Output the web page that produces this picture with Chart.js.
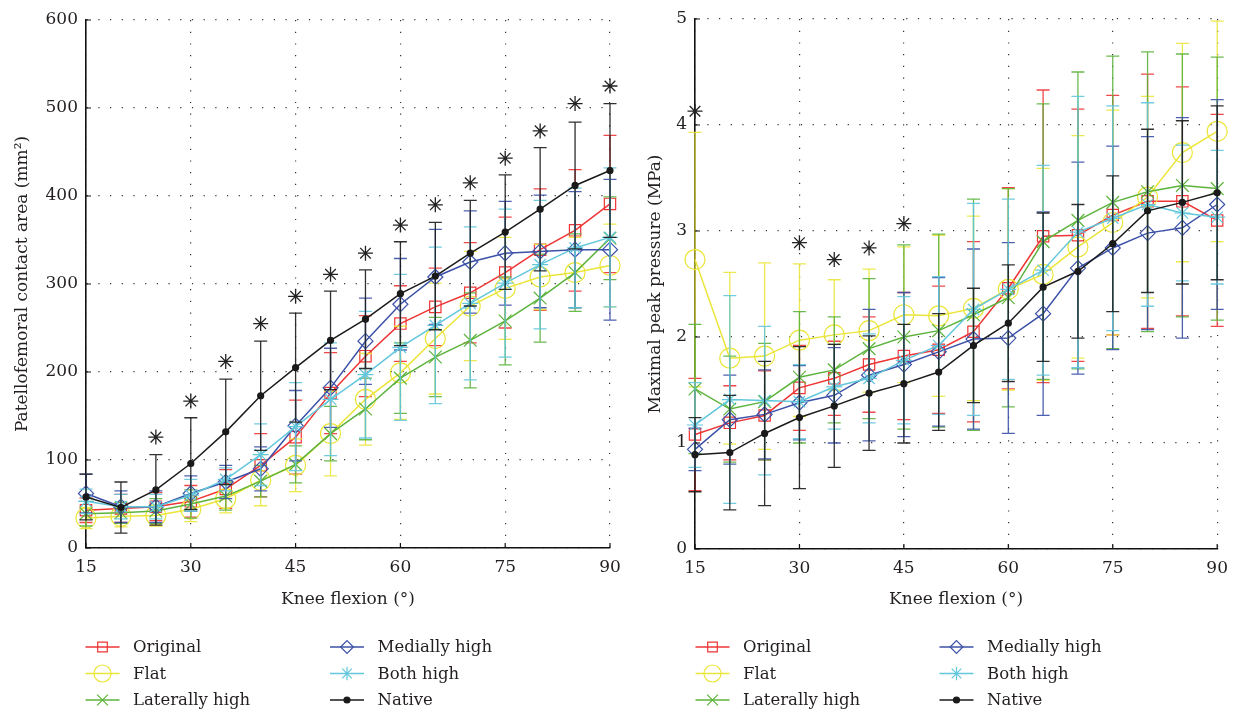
<!DOCTYPE html>
<html><head><meta charset="utf-8">
<script src="https://cdn.jsdelivr.net/npm/chart.js@4.4.1/dist/chart.umd.min.js"></script>
<style>
html,body{margin:0;padding:0;background:#fff;width:1237px;height:716px;overflow:hidden}
canvas{position:absolute;top:0}
#c1{left:0}
#c2{left:615px}
</style></head><body>
<canvas id="c1" width="630" height="716"></canvas>
<canvas id="c2" width="622" height="716"></canvas>
<script>
// ---------- DATA ----------
const flexionAngles = [15,20,25,30,35,40,45,50,55,60,65,70,75,80,85,90];
const seriesNames = ['Original','Flat','Laterally high','Medially high','Both high','Native'];

// Left panel: patellofemoral contact area (mm^2), means
const areaOriginal = [43,45,47,53,67,94,126,176,218,255,274,290,313,339,361,391];
const areaFlat     = [34,36,37,44,56,77,94,130,169,199,238,275,295,308,313,321];
const areaLateral  = [39,40,42,50,59,76,95,130,158,193,217,236,258,284,313,352];
const areaMedial   = [62,47,47,62,75,90,139,182,235,277,308,325,335,337,339,339];
const areaBoth     = [53,47,47,60,78,106,138,169,197,228,253,278,301,322,341,353];
const areaNative   = [58,46,66,96,132,173,205,236,260,289,309,335,359,385,412,429];
// standard deviations
const areaOriginalSD = [14,16,16,18,22,36,42,46,46,43,44,57,63,69,69,78];
const areaFlatSD     = [12,12,12,14,16,29,30,48,52,53,63,62,58,37,40,47];
const areaLateralSD  = [14,12,14,16,16,18,21,31,35,40,45,54,50,50,44,47];
const areaMedialSD   = [22,18,18,20,19,25,40,45,49,52,54,58,59,64,66,80];
const areaBothSD     = [14,14,14,18,13,35,50,64,72,83,89,87,84,73,68,79];
const areaNativeSD   = [26,29,40,52,60,62,62,56,56,59,61,60,65,70,72,76];
// significance markers
const areaStarAngles = [25,30,35,40,45,50,55,60,65,70,75,80,85,90];
const areaStarValues = [126,167,212,255,286,311,335,367,390,415,443,474,505,525];
const areaTicks = [0,100,200,300,400,500,600];

// Right panel: maximal peak pressure (MPa), means
const presOriginal = [1.08,1.19,1.26,1.52,1.61,1.74,1.82,1.88,2.05,2.46,2.95,2.96,3.15,3.28,3.28,3.10];
const presFlat     = [2.73,1.80,1.82,1.97,2.02,2.06,2.21,2.20,2.27,2.45,2.59,2.85,3.08,3.32,3.74,3.94];
const presLateral  = [1.51,1.32,1.39,1.62,1.69,1.89,2.00,2.06,2.21,2.37,2.90,3.10,3.27,3.37,3.43,3.40];
const presMedial   = [0.94,1.22,1.27,1.38,1.45,1.64,1.74,1.86,1.98,1.99,2.22,2.65,2.84,2.98,3.03,3.25];
const presBoth     = [1.17,1.41,1.40,1.39,1.53,1.61,1.78,1.92,2.26,2.45,2.63,2.99,3.12,3.25,3.17,3.13];
const presNative   = [0.89,0.91,1.09,1.24,1.35,1.47,1.56,1.67,1.92,2.13,2.47,2.62,2.88,3.19,3.27,3.36];
// standard deviations
const presOriginalSD = [0.53,0.35,0.42,0.40,0.35,0.45,0.60,0.60,0.85,0.95,1.38,1.19,1.13,1.20,1.08,1.00];
const presFlatSD     = [1.20,0.81,0.88,0.72,0.52,0.58,0.64,0.76,0.87,0.95,1.00,1.05,1.06,0.95,1.03,1.04];
const presLateralSD  = [0.61,0.50,0.55,0.62,0.50,0.66,0.87,0.91,1.09,1.03,1.30,1.40,1.38,1.32,1.24,1.24];
const presMedialSD   = [0.20,0.42,0.42,0.35,0.45,0.62,0.68,0.70,0.85,0.90,0.96,1.00,0.96,0.91,1.04,0.99];
const presBothSD     = [0.40,0.98,0.70,0.35,0.40,0.42,0.60,0.65,1.00,0.85,0.99,1.28,1.06,0.96,0.64,0.63];
const presNativeSD   = [0.35,0.54,0.68,0.67,0.58,0.54,0.56,0.55,0.54,0.55,0.70,0.63,0.64,0.77,0.77,0.82];
const presStarAngles = [15,30,35,40,45];
const presStarValues = [4.13,2.89,2.73,2.84,3.07];
const presTicks = [0,1,2,3,4,5];
const flexionTicks = [15,30,45,60,75,90];

// ---------- STYLES ----------
const FONT = 'DejaVu Serif';
const TEXT = '#231f20';
const seriesStyles = [
  {color:'#ee3434', pointStyle:'rect',     radius:8},
  {color:'#ebe53a', pointStyle:'circle',   radius:10},
  {color:'#5cb33c', pointStyle:'crossRot', radius:9},
  {color:'#3b50a7', pointStyle:'rectRot',  radius:7.5},
  {color:'#62c7dc', pointStyle:'star',     radius:8},
  {color:'#1a1a1a', pointStyle:'circle',   radius:3, filled:true}
];

function pts(xs, ys){ return xs.map((x,i)=>({x:x, y:ys[i]})); }

function buildDatasets(means, sds, starX, starY){
  const ds = means.map((m,i)=>{
    const st = seriesStyles[i];
    return {
      label: seriesNames[i],
      data: pts(flexionAngles, m),
      errorValues: sds[i],
      borderColor: st.color,
      backgroundColor: st.filled ? st.color : 'rgba(0,0,0,0)',
      borderWidth: 1.5,
      pointStyle: st.pointStyle,
      pointRadius: st.radius,
      pointBorderWidth: 1.2,
      pointBackgroundColor: st.filled ? st.color : 'rgba(0,0,0,0)',
      pointBorderColor: st.color,
      tension: 0,
      clip: false,
      order: 6 - i
    };
  });
  ds.push({
    label: 'sig',
    data: pts(starX, starY),
    showLine: false,
    pointStyle: 'star',
    pointRadius: 7.5,
    pointBorderWidth: 1.3,
    pointBorderColor: '#222',
    pointBackgroundColor: 'rgba(0,0,0,0)',
    borderColor: '#222',
    clip: false,
    order: 0,
    isSig: true
  });
  return ds;
}

const errorBarPlugin = {
  id: 'errorBars',
  beforeDatasetDraw(chart, args){
    const ds = chart.data.datasets[args.index];
    if (!ds.errorValues) return;
    const {ctx} = chart; const x = chart.scales.x, y = chart.scales.y;
    const cap = 6.5;
    ctx.save();
    ctx.strokeStyle = ds.borderColor;
    ctx.globalAlpha = 0.9;
    ctx.lineWidth = 1.3;
    ctx.beginPath();
    ds.data.forEach((p,j)=>{
      const sd = ds.errorValues[j];
      const px = x.getPixelForValue(p.x);
      const t = y.getPixelForValue(p.y + sd);
      const b = y.getPixelForValue(p.y - sd);
      ctx.moveTo(px, t); ctx.lineTo(px, b);
      ctx.moveTo(px-cap, t); ctx.lineTo(px+cap, t);
      ctx.moveTo(px-cap, b); ctx.lineTo(px+cap, b);
    });
    ctx.stroke();
    ctx.restore();
  }
};

function drawMarker(ctx, style, radius, x, y, color, filled){
  const opts = {pointStyle: style, radius: radius, rotation: 0, borderWidth: 1.2};
  ctx.save();
  ctx.strokeStyle = color; ctx.fillStyle = filled ? color : 'rgba(0,0,0,0)';
  ctx.lineWidth = 1.2;
  if (Chart.helpers && Chart.helpers.drawPoint) {
    Chart.helpers.drawPoint(ctx, opts, x, y);
  } else {
    ctx.beginPath(); ctx.arc(x,y,radius,0,Math.PI*2); if(filled) ctx.fill(); ctx.stroke();
  }
  ctx.restore();
}

const legendPlugin = {
  id: 'gridLegend',
  afterDraw(chart, args, opts){
    const {ctx} = chart;
    const x = chart.scales.x, y = chart.scales.y;
    // inner tick marks
    ctx.save();
    ctx.strokeStyle = '#111'; ctx.lineWidth = 1.2;
    ctx.beginPath();
    x.ticks.forEach(t=>{ const px = x.getPixelForValue(t.value); ctx.moveTo(px, y.bottom); ctx.lineTo(px, y.bottom-5); });
    y.ticks.forEach(t=>{ const py = y.getPixelForValue(t.value); ctx.moveTo(x.left, py); ctx.lineTo(x.left+5, py); });
    ctx.stroke();
    ctx.restore();
    // legend
    ctx.save();
    ctx.font = '16.5px "' + FONT + '"';
    ctx.fillStyle = TEXT;
    ctx.textBaseline = 'middle';
    chart.data.datasets.forEach((ds,i)=>{
      if (ds.isSig) return;
      const col = Math.floor(i/3), row = i%3;
      const cx = opts.cols[col], cy = opts.rows[row];
      const st = seriesStyles[i];
      ctx.save();
      ctx.strokeStyle = st.color; ctx.lineWidth = 1.5;
      ctx.beginPath(); ctx.moveTo(cx-17, cy); ctx.lineTo(cx+17, cy); ctx.stroke();
      ctx.restore();
      drawMarker(ctx, st.pointStyle, st.pointStyle==='circle' && !st.filled ? 8.5 : (st.filled ? 3 : st.radius*0.85), cx, cy, st.color, st.filled);
      ctx.fillStyle = TEXT;
      ctx.fillText(ds.label, cx + opts.textOffset, cy + 1);
    });
    ctx.restore();
  }
};

function makeChart(id, datasets, yMin, yMax, yStep, yTitle, yWidth, xHeight, pad, titlePad, legendCols){
  return new Chart(document.getElementById(id), {
    type: 'line',
    data: {datasets: datasets},
    options: {
      responsive: false, animation: false, devicePixelRatio: 1,
      layout: {padding: pad},
      plugins: {legend: {display:false}, tooltip: {enabled:false},
        gridLegend: {cols: legendCols, rows: [647, 673.5, 700], textOffset: 30.5}},
      scales: {
        x: {
          type: 'linear', min: 15, max: 90,
          afterBuildTicks: s => { s.ticks = flexionTicks.map(v=>({value:v})); },
          ticks: {font:{family:FONT, size:17}, color: TEXT, padding: 9, maxRotation:0},
          grid: {color:'#333', lineWidth:1.2, drawTicks:false},
          border: {display:true, color:'#111', width:1.6, dash:[1.2,10.5]},
          title: {display:true, text:'Knee flexion (°)', font:{family:FONT, size:17}, color: TEXT, padding:{top:0, bottom:10}},
          afterFit: s => { s.height = xHeight; }
        },
        y: {
          type: 'linear', min: yMin, max: yMax,
          afterBuildTicks: s => { s.ticks = (yMax===600?areaTicks:presTicks).map(v=>({value:v})); },
          ticks: {font:{family:FONT, size:17}, color: TEXT, padding: 8},
          grid: {color:'#333', lineWidth:1.2, drawTicks:false},
          border: {display:true, color:'#111', width:1.6, dash:[1.2,10.5]},
          title: {display:true, text:yTitle, font:{family:FONT, size:17}, color: TEXT, padding:{top:titlePad, bottom:0}},
          afterFit: s => { s.width = yWidth; }
        }
      }
    },
    plugins: [errorBarPlugin, legendPlugin]
  });
}

const leftSets = buildDatasets(
  [areaOriginal, areaFlat, areaLateral, areaMedial, areaBoth, areaNative],
  [areaOriginalSD, areaFlatSD, areaLateralSD, areaMedialSD, areaBothSD, areaNativeSD],
  areaStarAngles, areaStarValues);
const rightSets = buildDatasets(
  [presOriginal, presFlat, presLateral, presMedial, presBoth, presNative],
  [presOriginalSD, presFlatSD, presLateralSD, presMedialSD, presBothSD, presNativeSD],
  presStarAngles, presStarValues);

makeChart('c1', leftSets, 0, 600, 100, 'Patellofemoral contact area (mm²)', 86, 72,
  {top:20, right:20, left:0, bottom:96}, 12, [102.5, 347]);
makeChart('c2', rightSets, 0, 5, 1, 'Maximal peak pressure (MPa)', 80, 71,
  {top:19, right:17, left:0, bottom:96}, 30, [97.5, 341.5]);
</script>
</body></html>
